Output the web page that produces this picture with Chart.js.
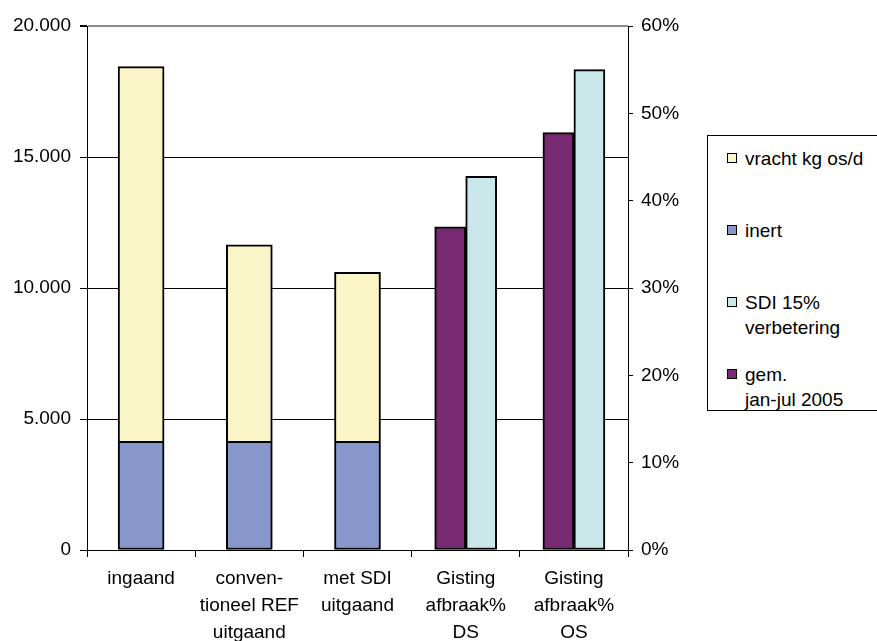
<!DOCTYPE html>
<html lang="nl">
<head>
<meta charset="utf-8">
<title>Vracht en gisting afbraak</title>
<script src="https://cdn.jsdelivr.net/npm/chart.js@4/dist/chart.umd.min.js"></script>
<style>
  html, body { margin: 0; padding: 0; background: #fff; overflow: hidden; }
  #wrap { position: relative; width: 877px; height: 641px; }
  #legend {
    position: absolute; left: 707px; top: 135px; width: 190px; height: 276px;
    border: 1px solid #000; box-sizing: border-box; padding-top: 10px;
    font: 19px 'Liberation Sans', Arial, sans-serif; color: #000; background: #fff;
  }
  .legend-item { display: flex; align-items: flex-start; height: 72px; padding-left: 19px; line-height: 25px; }
  .legend-item .swatch { flex: none; width: 8px; height: 8px; border: 1.5px solid #000; margin: 7px 8px 0 0; }
  .legend-item .text { white-space: pre-line; }
</style>
</head>
<body>
<div id="wrap">
  <canvas id="chart-vracht" width="877" height="641"></canvas>
  <div id="legend"></div>
</div>
<script>
const categories = [
  ['ingaand'],
  ['conven-', 'tioneel REF', 'uitgaand'],
  ['met SDI', 'uitgaand'],
  ['Gisting', 'afbraak%', 'DS'],
  ['Gisting', 'afbraak%', 'OS'],
];
const inertValues = [4150, 4150, 4150, null, null];
const vrachtValues = [14300, 7500, 6450, null, null];
const gemValues = [null, null, null, 37.0, 47.8];
const sdiValues = [null, null, null, 42.8, 55.0];
const loadTicks = [0, 5000, 10000, 15000, 20000];
const percentTicks = [0, 10, 20, 30, 40, 50, 60];
// legend shows vracht, inert, SDI, gem (dataset indexes)
const legendOrder = [1, 0, 3, 2];

Chart.defaults.font.family = "'Liberation Sans', Arial, sans-serif";
Chart.defaults.font.size = 19;
Chart.defaults.color = '#000';

function formatThousands(value) {
  return String(value).replace(/\B(?=(\d{3})+(?!\d))/g, '.');
}

function barDataset(label, data, color, stack, axis, thickness, skipped = false) {
  return {
    label,
    data,
    backgroundColor: color,
    borderColor: '#000',
    borderWidth: 2,
    borderSkipped: skipped,
    stack,
    yAxisID: axis,
    barThickness: thickness,
    skipNull: true,
  };
}

function renderLegend(chart) {
  document.getElementById('legend').innerHTML = legendOrder.map((i) => {
    const ds = chart.data.datasets[i];
    return `<div class="legend-item"><span class="swatch" style="background:${ds.backgroundColor}"></span><span class="text">${ds.label}</span></div>`;
  }).join('');
}

const ctx = document.getElementById('chart-vracht').getContext('2d');
const chart = new Chart(ctx, {
  type: 'bar',
  data: {
    labels: categories,
    datasets: [
      barDataset('inert', inertValues, '#8897CB', 'vracht', 'y', 46),
      // top segment shares the inert border, so skip its own bottom edge
      barDataset('vracht kg os/d', vrachtValues, '#FAF5C6', 'vracht', 'y', 46, 'start'),
      barDataset('gem.\njan-jul 2005', gemValues, '#772A72', 'gem', 'y1', 31),
      barDataset('SDI 15%\nverbetering', sdiValues, '#C9E7E9', 'sdi', 'y1', 31),
    ],
  },
  options: {
    responsive: false,
    animation: false,
    devicePixelRatio: 1,
    layout: { padding: { top: 26, right: 189, bottom: 0, left: 0 } },
    plugins: { legend: { display: false } },
    scales: {
      x: {
        grid: { offset: true, drawOnChartArea: false, color: '#000', tickLength: 7 },
        border: { color: '#000', width: 1 },
        ticks: { padding: 8, maxRotation: 0, autoSkip: false, font: { lineHeight: 27 / 19 } },
        afterFit: (scale) => { scale.height = 91; },
      },
      y: {
        position: 'left',
        min: 0,
        max: 20000,
        afterBuildTicks: (scale) => { scale.ticks = loadTicks.map((value) => ({ value })); },
        grid: {
          color: (c) => (c.tick && c.tick.value === 20000 ? '#8c8c8c' : '#000'),
          lineWidth: (c) => (c.tick && c.tick.value === 20000 ? 2 : 1),
          tickColor: '#000',
          tickLength: 7,
        },
        border: { color: '#000', width: 1 },
        ticks: { padding: 9, callback: (v) => formatThousands(v) },
        afterFit: (scale) => { scale.width = 87; },
      },
      y1: {
        position: 'right',
        min: 0,
        max: 60,
        afterBuildTicks: (scale) => { scale.ticks = percentTicks.map((value) => ({ value })); },
        grid: { drawOnChartArea: false, color: '#000', tickLength: 5 },
        border: { color: '#000', width: 1 },
        ticks: { padding: 8, callback: (v) => `${v}%` },
        afterFit: (scale) => { scale.width = 60; },
      },
    },
  },
});

renderLegend(chart);
</script>
</body>
</html>
